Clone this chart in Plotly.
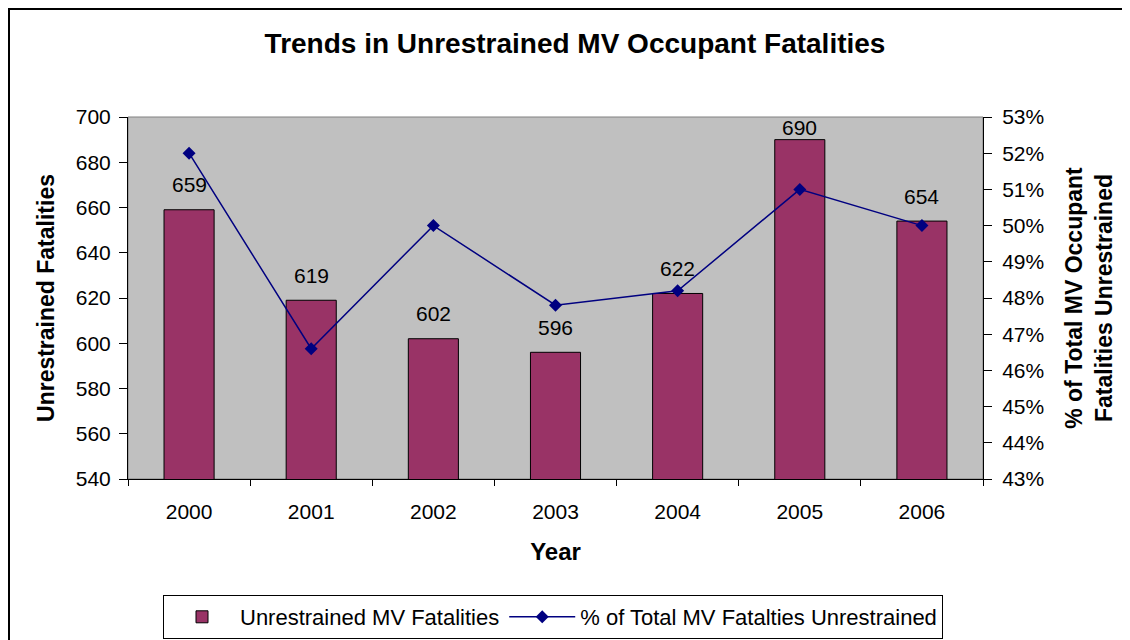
import plotly.graph_objects as go

years = ["2000", "2001", "2002", "2003", "2004", "2005", "2006"]
fatalities = [659, 619, 602, 596, 622, 690, 654]
pct_unrestrained = [0.520, 0.466, 0.500, 0.478, 0.482, 0.510, 0.500]

# the page places the figure 8px from the window's top-left corner
OFF = 8
W, H = 1130 - OFF, 640 - OFF
L, R, T, B = 128 - OFF, 983 - OFF, 117 - OFF, 479 - OFF  # plot area in figure pixels

FONT = "Arial, 'Liberation Sans', sans-serif"

fig = go.Figure()
fig.add_trace(go.Bar(
    x=years, y=fatalities, name="Unrestrained MV Fatalities",
    marker=dict(color="#993366", line=dict(color="black", width=1)),
))
fig.add_trace(go.Scatter(
    x=years, y=pct_unrestrained, name="% of Total MV Fatalties Unrestrained",
    yaxis="y2", mode="lines+markers",
    line=dict(color="#000080", width=1.5),
    marker=dict(symbol="diamond", size=10, color="#000080"),
))

# data labels above bars (clamped inside plot top, as in the original)
for i, v in enumerate(fatalities):
    fig.add_annotation(x=i, y=min(v + 11, 695.5), text=str(v), showarrow=False,
                       xref="x", yref="y", yanchor="middle", xanchor="center",
                       font=dict(family=FONT, size=21, color="black"))

def px_x(p):
    return (p - OFF - L) / (R - L)

def px_y(p):
    return (B - (p - OFF)) / (B - T)

# plot-area frame and outer page border
fig.add_shape(type="rect", xref="paper", yref="paper", x0=0, x1=1, y0=0, y1=1,
              line=dict(color="#808080", width=1), layer="below")
fig.add_shape(type="line", xref="paper", yref="paper", x0=px_x(8), x1=px_x(1130),
              y0=px_y(9), y1=px_y(9), line=dict(color="black", width=2))
fig.add_shape(type="line", xref="paper", yref="paper", x0=px_x(9), x1=px_x(9),
              y0=px_y(9), y1=px_y(640), line=dict(color="black", width=2))

fig.update_layout(
    width=W, height=H,
    margin=dict(l=L, r=W - R, t=T, b=H - B, autoexpand=False),
    paper_bgcolor="white", plot_bgcolor="#C0C0C0",
    font=dict(family=FONT, size=20, color="black"),
    title=dict(text="<b>Trends in Unrestrained MV Occupant Fatalities</b>",
               x=px_x(575), xref="paper", xanchor="center",
               y=1 - (43 - OFF) / H, yanchor="middle",
               font=dict(family=FONT, size=28, color="black")),
    bargap=0.59,
    showlegend=True,
    legend=dict(orientation="h", x=px_x(553), xanchor="center",
                y=px_y(595), yanchor="top", itemwidth=66,
                bordercolor="black", borderwidth=1, bgcolor="white",
                font=dict(family=FONT, size=22, color="black"),
                traceorder="normal"),
    xaxis=dict(
        type="category", categoryorder="array", categoryarray=years,
        range=[-0.5, len(years) - 0.5], autorange=False,
        title=dict(text="<b>Year</b>", font=dict(family=FONT, size=24), standoff=20),
        showgrid=False, showline=True, linecolor="black", linewidth=1,
        ticks="outside", ticklen=6, tickcolor="black", tickson="boundaries",
        tickangle=0, tickfont=dict(size=21), ticklabelstandoff=14,
    ),
    yaxis=dict(
        title=dict(text="<b>Unrestrained Fatalities</b>", font=dict(family=FONT, size=23), standoff=14),
        range=[540, 700], dtick=20, showgrid=False, zeroline=False,
        showline=True, linecolor="black", linewidth=1,
        ticks="outside", ticklen=8, tickcolor="black", tickfont=dict(size=21),
        ticklabelstandoff=4,
    ),
    yaxis2=dict(
        title=dict(text="<b>% of Total MV Occupant<br>Fatalities Unrestrained</b>",
                   font=dict(family=FONT, size=23), standoff=22),
        overlaying="y", side="right", range=[0.43, 0.53], dtick=0.01,
        tickformat=".0%", showgrid=False, zeroline=False,
        showline=True, linecolor="black", linewidth=1,
        ticks="outside", ticklen=8, tickcolor="black", tickfont=dict(size=21),
        ticklabelstandoff=6,
    ),
)

fig.write_html("out.html")
